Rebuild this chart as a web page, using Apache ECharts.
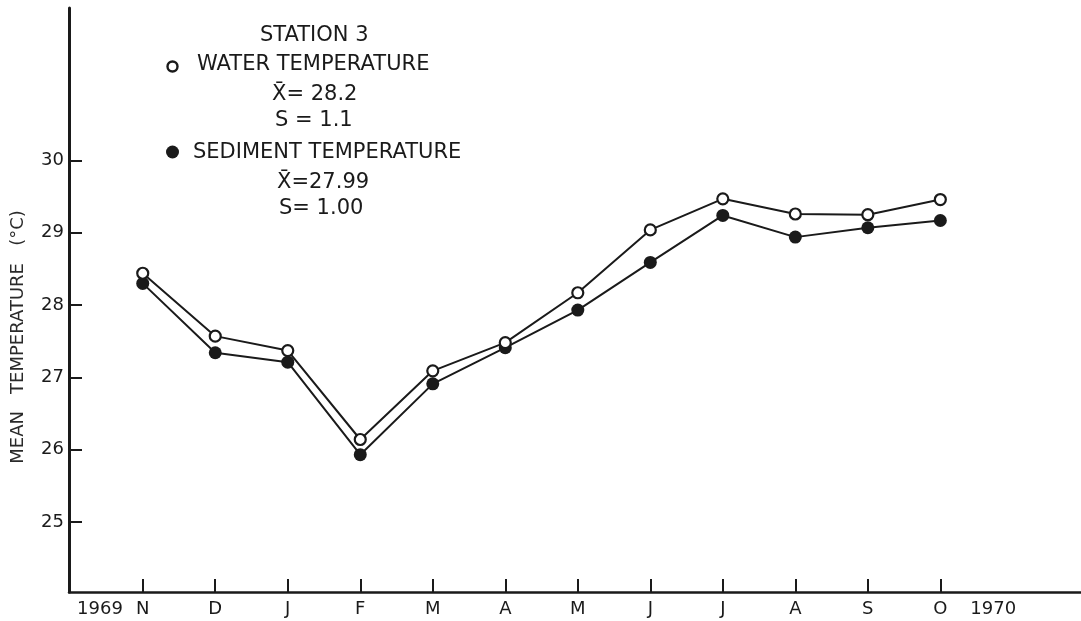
<!DOCTYPE html>
<html>
<head>
<meta charset="utf-8">
<script src="https://cdn.jsdelivr.net/npm/echarts@6/dist/echarts.min.js"></script>
<style>
html,body{margin:0;padding:0;background:#fff;}
#chart{width:1081px;height:621px;}
</style>
</head>
<body>
<div id="chart"></div>
<script>
const months = ['N','D','J','F','M','A','M','J','J','A','S','O'];
const waterTemp = [28.44, 27.57, 27.37, 26.14, 27.09, 27.48, 28.17, 29.04, 29.47, 29.26, 29.25, 29.46];
const sedimentTemp = [28.30, 27.34, 27.21, 25.93, 26.91, 27.41, 27.93, 28.59, 29.24, 28.94, 29.07, 29.17];
const yTicks = [25, 26, 27, 28, 29, 30];
const yearLabels = [{pos: -0.59, text: '1969'}, {pos: 11.73, text: '1970'}];
const yAxisTitle = 'MEAN   TEMPERATURE   (\u00B0C)';
const legendLines = ['STATION 3', 'WATER TEMPERATURE', 'X\u0304= 28.2', 'S = 1.1', 'SEDIMENT TEMPERATURE', 'X\u0304=27.99', 'S= 1.00'];

const FONT = 'DejaVu Sans';
const INK = '#1a1a1a';

const monthIdx = months.map((m, i) => i);
const xLabelVals = yearLabels.map(y => y.pos).concat(monthIdx);
function xLabel(v) {
  for (const y of yearLabels) if (Math.abs(v - y.pos) < 1e-6) return y.text;
  const i = Math.round(v);
  return months[i] !== undefined ? months[i] : '';
}
function legendText(i, x, y) {
  return {type: 'text', x: x, y: y, style: {text: legendLines[i], font: '21px "' + FONT + '"', fill: INK, textAlign: 'left', textVerticalAlign: 'middle'}};
}

const chart = echarts.init(document.getElementById('chart'), null, {renderer: 'canvas'});
chart.setOption({
  animation: false,
  backgroundColor: '#ffffff',
  grid: {left: 69, right: 0, top: 8, bottom: 29, containLabel: false},
  xAxis: {
    type: 'value',
    min: -1.017, max: 12.94,
    splitLine: {show: false},
    axisLine: {show: true, onZero: false, lineStyle: {color: INK, width: 2.5}},
    axisTick: {show: true, inside: true, length: 13, customValues: monthIdx, lineStyle: {color: INK, width: 2}},
    axisLabel: {customValues: xLabelVals, formatter: xLabel, color: INK, fontFamily: FONT, fontSize: 18, margin: 8}
  },
  yAxis: {
    type: 'value',
    min: 24.03, max: 32.11,
    splitLine: {show: false},
    axisLine: {show: true, onZero: false, lineStyle: {color: INK, width: 3}},
    axisTick: {show: true, inside: true, length: 13, customValues: yTicks, lineStyle: {color: INK, width: 2}},
    axisLabel: {customValues: yTicks, color: INK, fontFamily: FONT, fontSize: 18, margin: 5}
  },
  series: [
    {
      name: 'SEDIMENT TEMPERATURE',
      type: 'line',
      data: sedimentTemp.map((v, i) => [i, v]),
      symbol: 'circle', symbolSize: 13,
      lineStyle: {color: INK, width: 2},
      itemStyle: {color: INK, borderColor: INK, borderWidth: 0},
      z: 2
    },
    {
      name: 'WATER TEMPERATURE',
      type: 'line',
      data: waterTemp.map((v, i) => [i, v]),
      symbol: 'circle', symbolSize: 11,
      lineStyle: {color: INK, width: 2},
      itemStyle: {color: '#ffffff', borderColor: INK, borderWidth: 2.2},
      z: 3
    }
  ],
  graphic: [
    {type: 'text', x: 18, y: 337, rotation: Math.PI / 2,
     style: {text: yAxisTitle, font: '18px "' + FONT + '"', fill: '#2a2a2a', textAlign: 'center', textVerticalAlign: 'middle'}},
    legendText(0, 260, 36),
    {type: 'circle', shape: {cx: 172.5, cy: 66.5, r: 5}, style: {fill: '#fff', stroke: INK, lineWidth: 2.4}},
    legendText(1, 197, 65),
    legendText(2, 272, 95),
    legendText(3, 275, 121),
    {type: 'circle', shape: {cx: 172.5, cy: 152, r: 6.5}, style: {fill: INK}},
    legendText(4, 193, 153),
    legendText(5, 277, 183),
    legendText(6, 279, 209)
  ]
});
</script>
</body>
</html>
